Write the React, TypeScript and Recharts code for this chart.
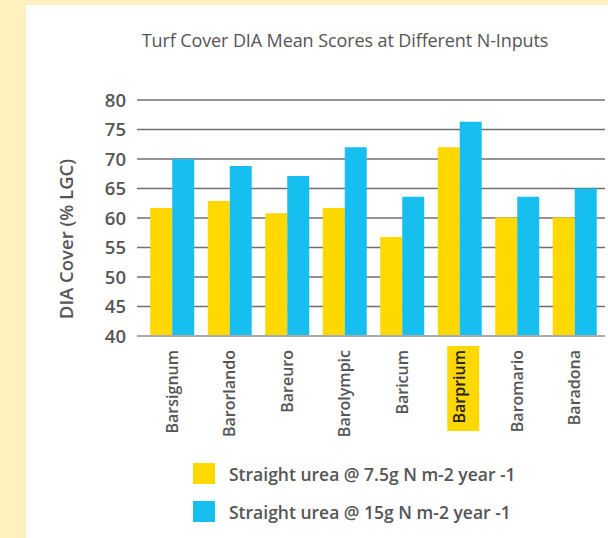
import React from "react";
import { BarChart, Bar, XAxis, YAxis, CartesianGrid } from "recharts";

const categories = ["Barsignum", "Barorlando", "Bareuro", "Barolympic", "Baricum", "Barprium", "Baromario", "Baradona"];
const lowN = [61.7, 62.9, 60.8, 61.7, 56.8, 72.0, 60.1, 60.1];
const highN = [70.0, 68.8, 67.1, 72.0, 63.6, 76.3, 63.6, 65.0];
const yTicks = [40, 45, 50, 55, 60, 65, 70, 75, 80];
const seriesNames = ["Straight urea @ 7.5g N m-2 year -1", "Straight urea @ 15g N m-2 year -1"];
const highlighted = "Barprium";

const data = categories.map((name, i) => ({ name, low: lowN[i], high: highN[i] }));

const YELLOW = "#FFD800";
const BLUE = "#16BFEF";
const TEXT = "#555555";
const FONT = "'Open Sans', Lato, sans-serif";

const XTick = (props: any) => {
  const { x, y, payload } = props;
  const isHi = payload.value === highlighted;
  const top = y + 6;
  return (
    <g>
      {isHi && <rect x={x - 12} y={top - 4} width={32} height={85} fill={YELLOW} />}
      <text
        x={x}
        y={top}
        transform={`rotate(-90, ${x}, ${top})`}
        textAnchor="end"
        dy="0.36em"
        fontFamily={FONT}
        fontSize={16}
        fontWeight={600}
        fill={isHi ? "#222" : TEXT}
      >
        {payload.value}
      </text>
    </g>
  );
};

const YLabel = () => (
  <text
    x={39}
    y={234}
    transform="rotate(-90, 39, 234)"
    textAnchor="middle"
    dominantBaseline="central"
    fontFamily={FONT}
    fontSize={18.5}
    fontWeight={600}
    fill={TEXT}
  >
    DIA Cover (% LGC)
  </text>
);

export default function App() {
  return (
    <div style={{ position: "fixed", left: 0, top: 0, width: 608, height: 538, background: "#FFF1BF", overflow: "hidden" }}>
      <div style={{ position: "absolute", left: 26, top: 5, width: 582, height: 533, background: "#fff" }}>
        <div
          style={{
            position: "absolute",
            left: 0,
            width: 582,
            top: 24,
            textAlign: "center",
            paddingLeft: 56,
            boxSizing: "border-box",
            fontFamily: FONT,
            fontSize: 18,
            color: TEXT,
            lineHeight: "22px",
            letterSpacing: -0.1,
          }}
        >
          Turf Cover DIA Mean Scores at Different N-Inputs
        </div>
        <BarChart
          width={582}
          height={533}
          data={data}
          margin={{ top: 95, right: 3, left: 0, bottom: 0 }}
          barGap={0}
          barCategoryGap="12.6%"
        >
          <CartesianGrid horizontal vertical={false} stroke="#6f6f6f" strokeWidth={1.3} />
          <XAxis
            dataKey="name"
            interval={0}
            height={202}
            tickLine={false}
            axisLine={{ stroke: "#aaaaaa", strokeWidth: 2 }}
            tick={<XTick />}
            padding={{ left: 6, right: 2 }}
          />
          <YAxis
            width={111}
            domain={[40, 80]}
            ticks={yTicks}
            interval={0}
            axisLine={false}
            tickLine={false}
            tickSize={0}
            tickMargin={11}
            tick={{ fill: TEXT, fontFamily: FONT, fontSize: 18.5, fontWeight: 600 }}
            label={<YLabel />}
          />
          <Bar dataKey="low" name={seriesNames[0]} fill={YELLOW} isAnimationActive={false} />
          <Bar dataKey="high" name={seriesNames[1]} fill={BLUE} isAnimationActive={false} />
        </BarChart>
      </div>
      {seriesNames.map((n, i) => (
        <div key={n} style={{ position: "absolute", left: 193, top: 463 + i * 38, height: 21, display: "flex", alignItems: "center" }}>
          <div style={{ width: 22, height: 21, background: i === 0 ? YELLOW : BLUE }} />
          <span style={{ marginLeft: 14, fontFamily: FONT, fontSize: 17.5, fontWeight: 600, color: TEXT, whiteSpace: "nowrap" }}>{n}</span>
        </div>
      ))}
    </div>
  );
}
